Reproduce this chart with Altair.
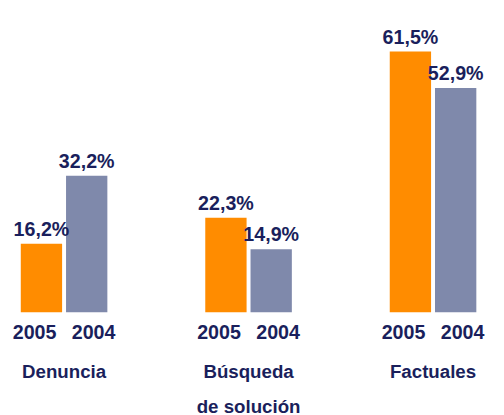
import altair as alt
import pandas as pd

categories = ["Denuncia", "Búsqueda de solución", "Factuales"]
category_labels = ["Denuncia", "Búsqueda\nde solución", "Factuales"]
years = ["2005", "2004"]
values_2005 = [16.2, 22.3, 61.5]
values_2004 = [32.2, 14.9, 52.9]
colors = ["#FF8C00", "#7F89AB"]
text_color = "#1A1F5C"
font = "Liberation Sans"

rows = []
for i, c in enumerate(categories):
    for yr, vals in zip(years, [values_2005, values_2004]):
        v = vals[i]
        rows.append({"cat": c, "year": yr, "value": v, "base": 0,
                     "label": f"{v:.1f}".replace(".", ",") + "%"})
df = pd.DataFrame(rows)
cat_df = pd.DataFrame({"cat": categories, "catlabel": category_labels, "base": [0] * 3})

x = alt.X("cat:N", sort=categories, axis=None,
          scale=alt.Scale(paddingInner=0.5307, paddingOuter=0.0693))
xo = alt.XOffset("year:N", sort=years,
                 scale=alt.Scale(paddingInner=0.087, paddingOuter=0))
yscale = alt.Scale(domain=[0, 71], nice=False, zero=True)

bars = alt.Chart(df).mark_bar().encode(
    x=x, xOffset=xo,
    y=alt.Y("value:Q", axis=None, scale=yscale),
    color=alt.Color("year:N", sort=years, legend=None,
                    scale=alt.Scale(domain=years, range=colors)),
)

pct = alt.Chart(df).mark_text(font=font, fontSize=20, fontWeight="bold",
                              color=text_color, baseline="alphabetic", dy=-8).encode(
    x=x, xOffset=xo, y=alt.Y("value:Q", axis=None, scale=yscale), text="label:N")


def year_layer(year, shift):
    return alt.Chart(df).transform_filter(alt.datum.year == year).mark_text(
        font=font, fontSize=20, fontWeight="bold", color=text_color,
        baseline="alphabetic", dy=27, dx=shift).encode(
        x=x, xOffset=xo, y=alt.Y("base:Q", axis=None, scale=yscale), text="year:N")


yr_2005 = year_layer("2005", -7)
yr_2004 = year_layer("2004", 7)

cat_text = alt.Chart(cat_df).mark_text(font=font, fontSize=19, fontWeight="bold",
                                       color=text_color, baseline="top", dy=52,
                                       lineBreak="\n", lineHeight=35).encode(
    x=x, y=alt.Y("base:Q", axis=None, scale=yscale), text="catlabel:N")

chart = alt.layer(bars, pct, yr_2005, yr_2004, cat_text).properties(
    width=489, height=306,
    autosize=alt.AutoSizeParams(type="none"),
    padding={"left": 0, "top": 0, "right": 7, "bottom": 101},
).configure_view(stroke=None)

chart.save("out.html", embed_options={"renderer": "svg", "actions": False})
